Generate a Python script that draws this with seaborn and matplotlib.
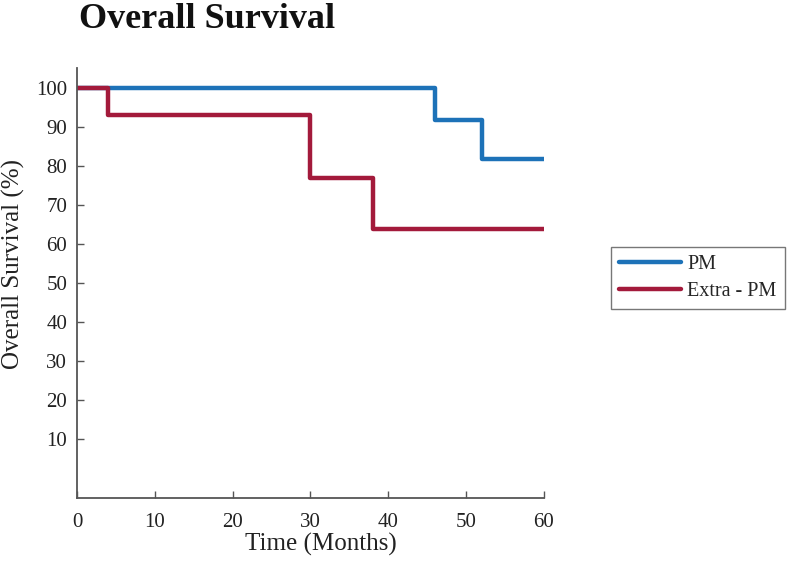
import matplotlib
matplotlib.use("Agg")
import matplotlib.pyplot as plt
from matplotlib.lines import Line2D
import seaborn as sns
import pandas as pd

# Data
pm_time = [0, 46, 52, 60]
pm_surv = [100, 91.7, 81.7, 81.7]
extra_time = [0, 4, 30, 38, 60]
extra_surv = [100, 92.9, 76.8, 63.8, 63.8]
groups = ["PM", "Extra - PM"]
x_ticks = [0, 10, 20, 30, 40, 50, 60]
y_ticks = [10, 20, 30, 40, 50, 60, 70, 80, 90, 100]
palette = {"PM": "#1d72b8", "Extra - PM": "#a31a3b"}

df = pd.concat([
    pd.DataFrame({"time": pm_time, "surv": pm_surv, "group": groups[0]}),
    pd.DataFrame({"time": extra_time, "surv": extra_surv, "group": groups[1]}),
], ignore_index=True)

sns.set_style("white")
plt.rcParams["font.family"] = ["Liberation Serif", "DejaVu Serif"]

fig = plt.figure(figsize=(7.87, 5.67), dpi=100)
ax = fig.add_axes([0.0978, 0.1217, 0.5934, 0.758])

sns.lineplot(data=df, x="time", y="surv", hue="group", hue_order=groups,
             palette=palette, drawstyle="steps-post", linewidth=3.2,
             estimator=None, sort=False, ax=ax, legend=False)

ax.set_xlim(0, 60)
ax.set_ylim(-5, 105)
ax.set_xticks(x_ticks)
ax.set_yticks(y_ticks)
ax.tick_params(direction="in", length=5, width=1.0, color="#555555",
               labelsize=15, labelcolor="#222222", bottom=True, left=True)
ax.tick_params(axis="x", pad=11)
ax.tick_params(axis="y", pad=7)
for s in ["top", "right"]:
    ax.spines[s].set_visible(False)
for s in ["left", "bottom"]:
    ax.spines[s].set_color("#555555")
    ax.spines[s].set_linewidth(1.3)

ax.set_xlabel("Time (Months)", fontsize=18, color="#222222")
ax.set_ylabel("Overall Survival (%)", fontsize=18, color="#222222")
ax.xaxis.set_label_coords(0.522, -0.082)
ax.yaxis.set_label_coords(-0.111, 0.544)

fig.text(0.101, 0.950, "Overall Survival", fontsize=26, fontweight="bold",
         color="#111111", ha="left", va="baseline")

handles = [Line2D([0], [0], color=palette[g], lw=3.2) for g in groups]
leg = fig.legend(handles, groups, loc="upper left", bbox_to_anchor=(0.776, 0.565),
                 frameon=True, fancybox=False, fontsize=14.5, handlelength=3.1,
                 handletextpad=0.3, borderpad=0.4, labelspacing=0.42,
                 borderaxespad=0)
leg.get_frame().set_edgecolor("#555555")
leg.get_frame().set_linewidth(1.0)

fig.savefig("out.png", dpi=100)
